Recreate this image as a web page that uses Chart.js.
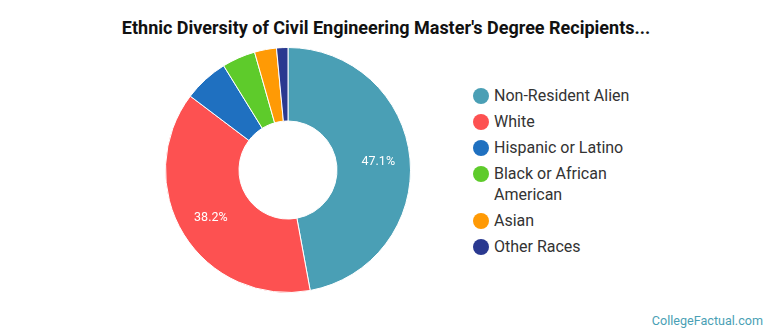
<!DOCTYPE html>
<html>
<head>
<meta charset="utf-8">
<script src="https://cdn.jsdelivr.net/npm/chart.js@4/dist/chart.umd.min.js"></script>
<style>
  html, body { margin: 0; padding: 0; background: #fff; }
  body { width: 770px; height: 335px; position: relative; overflow: hidden; font-family: Roboto, sans-serif; }
  #title { position: absolute; left: 0; width: 772px; top: 17px; text-align: center; font-weight: bold; font-size: 18px; color: #111; }
  #wrap { position: absolute; left: 165px; top: 47px; width: 246px; height: 246px; }
  #legend { position: absolute; left: 472px; top: 85px; list-style: none; margin: 0; padding: 0; font-size: 16px; color: #333; }
  #legend li { position: relative; padding-left: 22px; width: 140px; line-height: 21px; margin-bottom: 5px; }
  #legend .dot { position: absolute; left: 1px; top: 2.5px; width: 16px; height: 16px; border-radius: 50%; }
  #credit { position: absolute; right: 7px; top: 313px; font-size: 12.6px; color: #4a9fb5; }
</style>
</head>
<body>
<div id="title">Ethnic Diversity of Civil Engineering Master's Degree Recipients...</div>
<div id="wrap"><canvas id="chart"></canvas></div>
<ul id="legend"></ul>
<div id="credit">CollegeFactual.com</div>
<script>
const labels = ['Non-Resident Alien', 'White', 'Hispanic or Latino', 'Black or African American', 'Asian', 'Other Races']
const shares = [47.1, 38.2, 5.9, 4.4, 2.9, 1.5]
const colors = ['#4a9fb5', '#fd5151', '#1f70c0', '#5ecb2b', '#ff9a05', '#2a3990']

// percentage labels inside the bigger slices
const sliceLabels = {
  id: 'sliceLabels',
  afterDatasetsDraw(chart) {
    const { ctx } = chart
    const meta = chart.getDatasetMeta(0)
    ctx.save()
    ctx.font = '12.5px Roboto, sans-serif'
    ctx.fillStyle = '#fff'
    ctx.textAlign = 'center'
    ctx.textBaseline = 'middle'
    meta.data.forEach((arc, i) => {
      if (shares[i] < 10) return
      const mid = (arc.startAngle + arc.endAngle) / 2
      const r = arc.outerRadius * 0.74
      ctx.fillText(shares[i].toFixed(1) + '%', arc.x + Math.cos(mid) * r, arc.y + Math.sin(mid) * r)
    })
    ctx.restore()
  }
}

new Chart(document.getElementById('chart'), {
  type: 'doughnut',
  data: {
    labels,
    datasets: [{
      data: shares,
      backgroundColor: colors,
      borderColor: '#fff',
      borderWidth: 1,
    }]
  },
  options: {
    responsive: true,
    maintainAspectRatio: false,
    animation: false,
    cutout: '40%',
    plugins: { legend: { display: false }, tooltip: { enabled: false } }
  },
  plugins: [sliceLabels]
})

document.getElementById('legend').innerHTML = labels.map((l, i) =>
  `<li><span class="dot" style="background:${colors[i]}"></span>${l}</li>`
).join('')
</script>
</body>
</html>
